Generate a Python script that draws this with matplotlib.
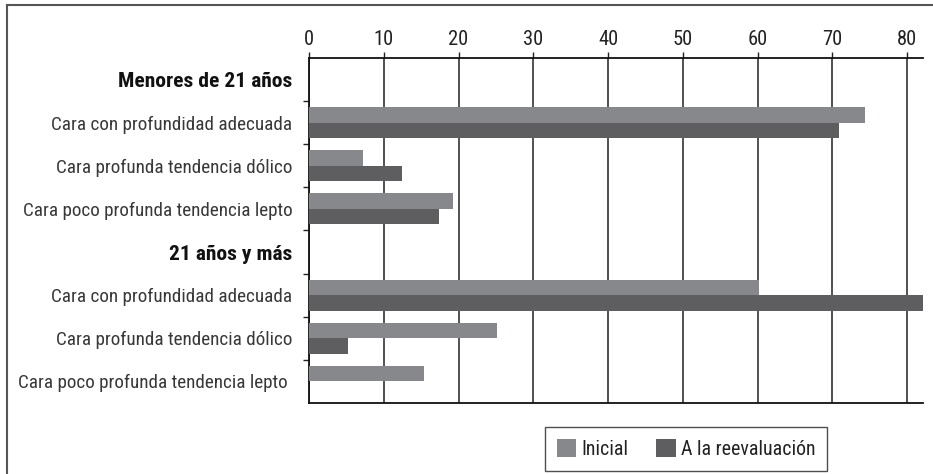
import matplotlib
matplotlib.use("Agg")
import matplotlib.pyplot as plt
from matplotlib import font_manager as fm
from matplotlib.lines import Line2D
from matplotlib.patches import Patch
import numpy as np

# ---- data ----
categories = [
    "Menores de 21 años",
    "Cara con profundidad adecuada",
    "Cara profunda tendencia dólico",
    "Cara poco profunda tendencia lepto",
    "21 años y más",
    "Cara con profundidad adecuada",
    "Cara profunda tendencia dólico",
    "Cara poco profunda tendencia lepto ",
]
header_rows = [0, 4]
inicial = [0, 74.4, 7.2, 19.3, 0, 60.2, 25.2, 15.4]
reevaluacion = [0, 70.9, 12.5, 17.4, 0, 82.1, 5.2, 0]
series_names = ["Inicial", "A la reevaluación"]
x_ticks = [0, 10, 20, 30, 40, 50, 60, 70, 80]

# ---- font: prefer a condensed sans face if one is installed ----
COND = ("condensed", "semi-condensed", "extra-condensed", "ultra-condensed")
family, stretch, fsize = "Liberation Sans", "normal", 12
prefs = ["Liberation Sans Narrow", "Roboto Condensed", "Open Sans Condensed",
         "Noto Sans", "Roboto", "Open Sans", "DejaVu Sans"]
found = {}
for f in fm.fontManager.ttflist:
    st = f.stretch
    is_cond = ("Narrow" in f.name or "Condensed" in f.name or st in COND
               or (isinstance(st, int) and st < 500))
    if is_cond:
        found.setdefault(f.name, st)
for p in prefs:
    if p in found:
        family = p
        st = found[p]
        stretch = st if (st in COND or isinstance(st, int)) else "normal"
        fsize = 13.8
        break

plt.rcParams["font.family"] = [family, "Liberation Sans", "DejaVu Sans"]
plt.rcParams["font.stretch"] = stretch

c_ini = "#87888b"
c_ree = "#5e5e60"

W, H = 933, 474
fig = plt.figure(figsize=(W / 100, H / 100), dpi=100)
ax = fig.add_axes([309 / W, 1 - 402.7 / H, (922.7 - 309) / W, (402.7 - 58.3) / H])

y = np.arange(len(categories))
bh = 0.36
ax.barh(y - bh / 2, inicial, height=bh, color=c_ini, label=series_names[0], zorder=3)
ax.barh(y + bh / 2, reevaluacion, height=bh, color=c_ree, label=series_names[1], zorder=3)

ax.set_xlim(0, 82.1)
ax.set_ylim(len(categories) - 0.5, -0.5)

# x axis on top
ax.xaxis.tick_top()
ax.set_xticks(x_ticks)
ax.set_xticklabels([str(v) for v in x_ticks])
ax.tick_params(axis="x", which="major", direction="out", length=4, width=1,
               pad=2.5, labelsize=fsize + 1, colors="#222222")
ax.grid(axis="x", color="#333333", linewidth=1.2, zorder=0)
ax.set_axisbelow(True)

# y axis: labels at centers, tick marks at boundaries
ax.set_yticks(y)
ax.set_yticklabels(categories)
ax.tick_params(axis="y", which="major", length=0, pad=12, labelsize=fsize, labelcolor="#383838")
ax.set_yticks(np.arange(0.5, len(categories) - 0.5, 1), minor=True)
ax.tick_params(axis="y", which="minor", direction="out", length=4, width=1, color="#222222")
for i, lab in enumerate(ax.get_yticklabels()):
    if i in header_rows:
        lab.set_fontweight("bold")
        lab.set_fontsize(fsize * 1.12)
        lab.set_color("#111111")

ax.spines["right"].set_visible(False)
for s in ["top", "bottom", "left"]:
    ax.spines[s].set_color("#111111")
    ax.spines[s].set_linewidth(1.3)

# legend
handles = [Patch(facecolor=c_ini, edgecolor="none"), Patch(facecolor=c_ree, edgecolor="none")]
leg = fig.legend(handles, series_names, loc="center", bbox_to_anchor=(686 / W, 1 - 449 / H),
                 ncol=2, frameon=True, fancybox=False, fontsize=fsize + 0.5, handlelength=1.0,
                 handleheight=1.0, handletextpad=0.25, columnspacing=1.4, borderpad=0.6,
                 edgecolor="#222222")
leg.get_frame().set_linewidth(1.0)
for t in leg.get_texts():
    t.set_color("#222222")

# outer frame (top and left edges)
fig.add_artist(Line2D([7.3 / W, 1], [1 - 4.7 / H, 1 - 4.7 / H], color="#555555", linewidth=1.5,
                      transform=fig.transFigure))
fig.add_artist(Line2D([7.3 / W, 7.3 / W], [0, 1 - 4.7 / H], color="#555555", linewidth=1.5,
                      transform=fig.transFigure))

fig.savefig("out.png", dpi=100)
